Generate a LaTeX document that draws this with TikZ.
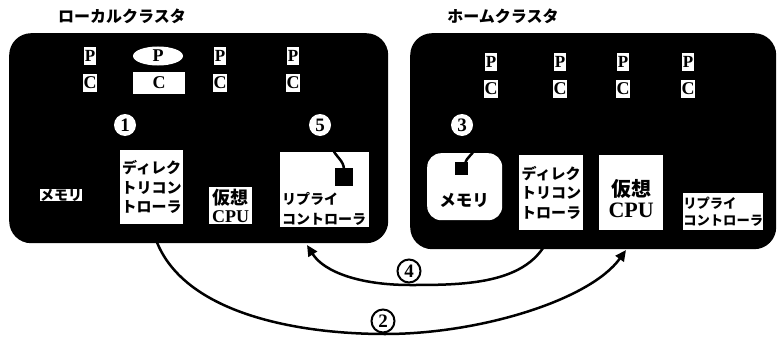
\documentclass[tikz,border=0pt]{standalone}
\usepackage{fontspec}
\setmainfont{Liberation Serif}
\newfontfamily\jp{Noto Sans CJK JP}
\usetikzlibrary{arrows.meta,shapes.geometric}
\begin{document}
\begin{tikzpicture}[x=1pt,y=-1pt,
 cluster/.style={fill=black, rounded corners=22pt, inner sep=0pt, anchor=north west},
 wbox/.style={fill=white, inner sep=0pt, anchor=north west},
 jt/.style={font=\jp\bfseries\fontsize{14.5}{19}\selectfont, align=center, inner sep=0pt},
 title/.style={font=\jp\bfseries\fontsize{16}{16}\selectfont, inner sep=0pt},
 num/.style={circle, fill=white, inner sep=0pt, minimum size=22pt, font=\bfseries\fontsize{19}{19}\selectfont},
 onum/.style={circle, fill=white, draw=black, line width=2pt, inner sep=0pt, minimum size=23pt, font=\bfseries\fontsize{19}{19}\selectfont},
 cbox/.style={fill=white, inner sep=0pt, minimum width=14pt, minimum height=18pt, font=\bfseries\fontsize{18}{18}\selectfont},
 pbox/.style={fill=white, inner sep=0pt, minimum width=12pt, minimum height=17pt, font=\bfseries\fontsize{17}{17}\selectfont},
 link/.style={line width=2.5pt, -{Triangle[length=11pt,width=10pt]}},
 wire/.style={line width=2.5pt}]

\useasboundingbox (0,0) rectangle (778,337);

% titles
\node[title] (lt) at (122,16) {ローカルクラスタ};
\node[title] (rt) at (503,16) {ホームクラスタ};

% clusters
\node[cluster, minimum width=379pt, minimum height=210pt] (lc) at (9,33) {};
\node[cluster, minimum width=366pt, minimum height=216pt] (rc) at (410,33) {};

% left processors / caches
\node[pbox] (lp1) at (90,56) {P};
\node[fill=white, ellipse, minimum width=50pt, minimum height=19pt, inner sep=0pt, font=\bfseries\fontsize{18}{18}\selectfont] (lp2) at (158,56) {P};
\node[pbox] (lp3) at (220,56) {P};
\node[pbox] (lp4) at (293,56) {P};
\node[cbox] (lc1) at (90,83) {C};
\node[cbox, minimum width=52pt, minimum height=22pt] (lc2) at (159,83) {C};
\node[cbox] (lc3) at (220,83) {C};
\node[cbox] (lc4) at (293,83) {C};

% right processors / caches
\node[pbox] (rp1) at (491,62) {P};
\node[pbox] (rp2) at (560,62) {P};
\node[pbox] (rp3) at (623,62) {P};
\node[pbox] (rp4) at (688,62) {P};
\node[cbox] (rc1) at (491,89) {C};
\node[cbox] (rc2) at (560,89) {C};
\node[cbox] (rc3) at (623,89) {C};
\node[cbox] (rc4) at (688,89) {C};

% step numbers
\node[num] (n1) at (125,125) {1};
\node[num] (n5) at (320,125) {5};
\node[num] (n3) at (462,125) {3};

% left cluster units
\node[fill=white, inner sep=1pt, jt, font=\jp\bfseries\fontsize{14}{14}\selectfont] (lmem) at (61,195) {メモリ};
\node[wbox, minimum width=63pt, minimum height=74pt] (ldir) at (120,150) {};
\node[jt, font=\jp\bfseries\fontsize{15}{19.5}\selectfont] (ldirt) at (ldir.center) {ディレク\\トリコン\\トローラ};
\node[wbox, minimum width=43pt, minimum height=37pt] (lcpu) at (209,187) {};
\node[jt, font=\bfseries\fontsize{18}{19}\selectfont] (lcput) at (lcpu.center) {{\jp 仮想}\\[-1pt]CPU};
\node[wbox, minimum width=89pt, minimum height=75pt] (lrep) at (280,152) {};
\node[jt, font=\jp\bfseries\fontsize{14}{20}\selectfont, align=left, anchor=south west] (lrept) at (282,226) {リプライ\\コントローラ};
\coordinate (lw) at (331,146);
\draw[wire] (344,170) .. controls (344,160) and (336,158) .. (lw);
\fill (335,168) rectangle (353,186);

% right cluster units
\node[wbox, rounded corners=14pt, minimum width=75pt, minimum height=67pt] (rmem) at (427,153) {};
\node[jt, font=\jp\bfseries\fontsize{16.5}{17}\selectfont] (rmemt) at (464,200) {メモリ};
\coordinate (rw) at (474,150);
\draw[wire] (465,164) .. controls (467,156) and (472,156) .. (rw);
\fill (455,162) rectangle (468,175);
\node[wbox, minimum width=64pt, minimum height=75pt] (rdir) at (519,155) {};
\node[jt, font=\jp\bfseries\fontsize{15}{19.5}\selectfont] (rdirt) at (rdir.center) {ディレク\\トリコン\\トローラ};
\node[wbox, minimum width=64pt, minimum height=75pt] (rcpu) at (599,155) {};
\node[jt, font=\bfseries\fontsize{22}{21}\selectfont] (rcput) at ([yshift=-6pt]rcpu.center) {{\jp\fontsize{20}{20}\selectfont 仮想}\\CPU};
\node[wbox, minimum width=80pt, minimum height=37pt] (rrep) at (683,193) {};
\node[jt, font=\jp\bfseries\fontsize{13.3}{17}\selectfont, align=left] (rrept) at (rrep.center) {リプライ\\コントローラ};

% connectors
\coordinate (t2) at (626,250);
\coordinate (t4) at (307,245);
\draw[link] (ldir.south) .. controls (168,310) and (290,334) .. (385,334)
  .. controls (480,334) and (590,300) .. (t2);
\draw[link] (rdir.south) .. controls (535,285) and (465,285) .. (410,285)
  .. controls (360,285) and (324,272) .. (t4);
\node[onum] (n4) at (409,271) {4};
\node[onum] (n2) at (383,321) {2};
\end{tikzpicture}
\end{document}
